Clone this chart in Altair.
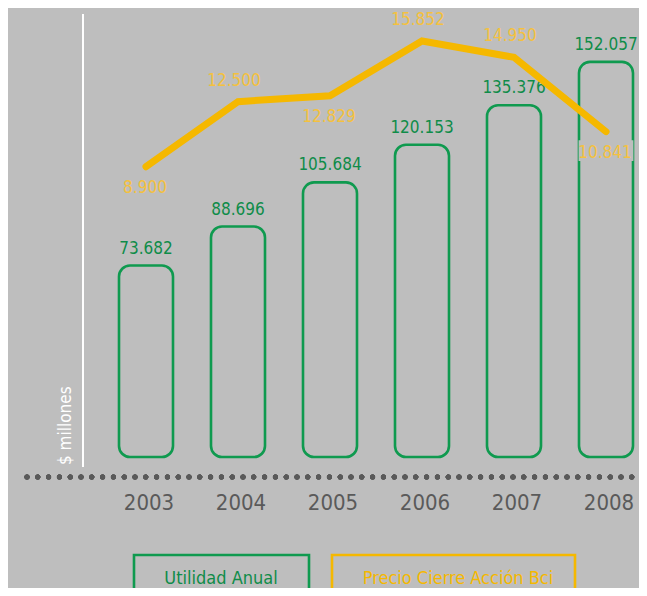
import altair as alt
import pandas as pd

years = ["2003", "2004", "2005", "2006", "2007", "2008"]
utilidad = [73.682, 88.696, 105.684, 120.153, 135.376, 152.057]
utilidad_txt = ["73.682", "88.696", "105.684", "120.153", "135.376", "152.057"]
precio = [8.900, 12.500, 12.829, 15.852, 14.950, 10.841]
precio_txt = ["8.900", "12.500", "12.829", "15.852", "14.950", "10.841"]
precio_side = ["below", "above", "below", "above", "above", "below"]
legend_items = ["Utilidad Anual", "Precio Cierre Acción Bci"]
y_title = "$ millones"

BG = "#bebebe"
GREEN = "#0f9a4f"
GREEN_T = "#0f8c49"
YELLOW = "#f5b800"
YELLOW_T = "#f4c13f"
GREY_T = "#5a5a5a"
FONT = "DejaVu Sans Condensed"

df = pd.DataFrame({
    "year": years, "util": utilidad, "util_txt": utilidad_txt,
    "precio": precio, "precio_txt": precio_txt, "side": precio_side,
})

xs = alt.X("year:N", axis=None,
           scale=alt.Scale(type="band", range=[92, 644], paddingInner=0, paddingOuter=0))
ybar = alt.Scale(domain=[0, 172.8], range=[449, 0])
yline = alt.Scale(domain=[0, 17.68], range=[319.6, 0])

base = alt.Chart(df)

bars = base.mark_bar(width=54, cornerRadius=11, fill=BG, stroke=GREEN, strokeWidth=2.6).encode(
    x=xs, y=alt.Y("util:Q", scale=ybar, axis=None), y2=alt.datum(0)
)
bar_lbl = base.mark_text(font=FONT, fontSize=17, color=GREEN_T, dy=-17, baseline="middle").encode(
    x=xs, y=alt.Y("util:Q", scale=ybar, axis=None), text="util_txt:N"
)

box = base.transform_filter(alt.datum.year == "2008").mark_point(
    shape="M-1,-0.38H1V0.38H-1Z", size=3000, filled=True, fill=BG, opacity=1, strokeWidth=0, yOffset=19
).encode(x=xs, y=alt.Y("precio:Q", scale=yline, axis=None))

line = base.mark_line(color=YELLOW, strokeWidth=7, strokeCap="round", strokeJoin="miter").encode(
    x=xs, y=alt.Y("precio:Q", scale=yline, axis=None)
)
lbl_below = base.transform_filter(alt.datum.side == "below").mark_text(
    font=FONT, fontSize=17, color=YELLOW_T, dy=21, dx=-1, baseline="middle").encode(
    x=xs, y=alt.Y("precio:Q", scale=yline, axis=None), text="precio_txt:N")
lbl_above = base.transform_filter(alt.datum.side == "above").mark_text(
    font=FONT, fontSize=17, color=YELLOW_T, dy=-21, dx=-4, baseline="middle").encode(
    x=xs, y=alt.Y("precio:Q", scale=yline, axis=None), text="precio_txt:N")

year_lbl = base.mark_text(font=FONT, fontSize=22, color=GREY_T, baseline="middle", dx=3).encode(
    x=xs, y=alt.value(495), text="year:N")

dots = base.mark_rule(color=GREY_T, strokeWidth=5, strokeCap="round", strokeDash=[0, 10.8]).encode(
    x=alt.value(19), x2=alt.value(640), y=alt.value(469))

vline = base.mark_rule(color="white", strokeWidth=1.5).encode(
    x=alt.value(75), y=alt.value(6), y2=alt.value(459))

ytitle = alt.Chart(pd.DataFrame({"t": [y_title]})).mark_text(
    font=FONT, fontSize=17, color="white", angle=270, align="left", baseline="middle").encode(
    x=alt.value(58), y=alt.value(457), text="t:N")

leg_df1 = pd.DataFrame({"t": [legend_items[0]]})
leg_df2 = pd.DataFrame({"t": [legend_items[1]]})
leg_box1 = alt.Chart(leg_df1).mark_rect(fillOpacity=0, stroke=GREEN, strokeWidth=2.6).encode(
    x=alt.value(126), x2=alt.value(301), y=alt.value(547), y2=alt.value(600))
leg_txt1 = alt.Chart(leg_df1).mark_text(font=FONT, fontSize=18, color=GREEN_T, baseline="middle").encode(
    x=alt.value(213), y=alt.value(571), text="t:N")
leg_box2 = alt.Chart(leg_df2).mark_rect(fillOpacity=0, stroke=YELLOW, strokeWidth=2.6).encode(
    x=alt.value(324), x2=alt.value(567), y=alt.value(547), y2=alt.value(600))
leg_txt2 = alt.Chart(leg_df2).mark_text(font=FONT, fontSize=18, color=YELLOW, baseline="middle").encode(
    x=alt.value(450), y=alt.value(571), text="t:N")

chart = alt.layer(
    bars, bar_lbl, box, line, lbl_below, lbl_above, year_lbl, dots, vline, ytitle,
    leg_box1, leg_txt1, leg_box2, leg_txt2
).resolve_scale(y="independent").properties(
    width=631, height=580, padding=0,
    autosize=alt.AutoSizeParams(type="none"),
    background=BG,
).configure_view(stroke=None)

chart.save("out.html", embed_options={"renderer": "svg", "actions": False})
